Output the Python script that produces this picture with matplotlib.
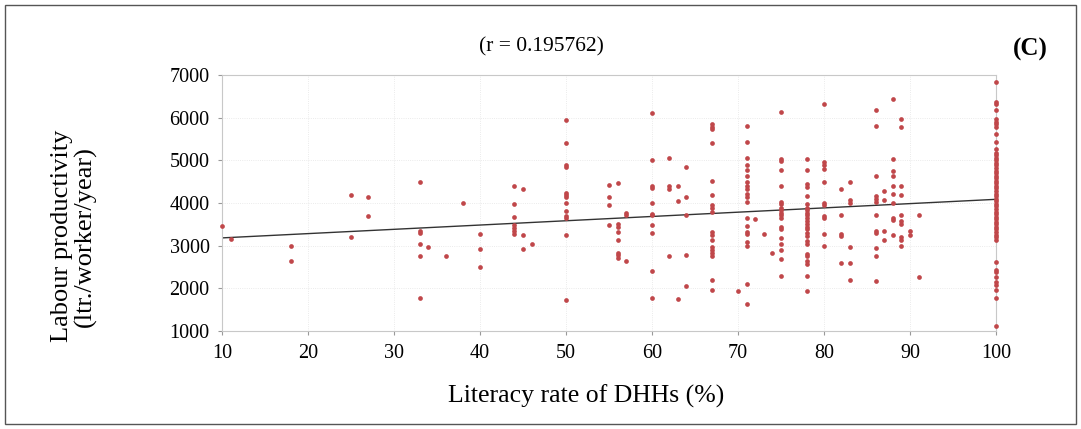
import numpy as np
import matplotlib.pyplot as plt
from matplotlib.patches import Rectangle

# literacy rate of DHHs (%) and the productivity readings at each level
literacy_levels = [10, 11, 18, 25, 27, 33, 34, 36, 38, 40, 44, 45, 46, 50, 55, 56, 57,
                   60, 62, 63, 64, 67, 70, 71, 72, 73, 74, 75, 78, 80, 82, 83, 86,
                   87, 88, 89, 90, 91, 100]
productivity = [
    [3450],
    [3150],
    [3000, 2650],
    [4180, 3200],
    [4150, 3700],
    [4500, 3350, 3300, 3050, 2750, 1770],
    [2980],
    [2750],
    [3990],
    [3270, 2920, 2500],
    [4400, 3980, 3680, 3490, 3420, 3340, 3280],
    [4320, 3260, 2920],
    [3040],
    [5950, 5400, 4900, 4850, 4240, 4190, 4150, 4000, 3820, 3690, 3640, 3240, 1730],
    [4420, 4150, 3950, 3490],
    [4480, 3510, 3430, 3310, 3140, 2840, 2780, 2720],
    [3770, 3720, 2630],
    [6120, 5000, 4410, 4350, 3990, 3750, 3710, 3490, 3300, 2410, 1770],
    [5050, 4400, 4330, 2750],
    [4410, 4040, 1750],
    [4840, 4150, 3720, 2770, 2060],
    [5850, 5780, 5740, 5400, 4510, 4180, 3950, 3890, 3800, 3330, 3240, 3140,
     2980, 2910, 2830, 2750, 2200, 1970],
    [1930],
    [5810, 5420, 5050, 4900, 4770, 4630, 4490, 4410, 4330, 4210, 4130, 4020,
     3660, 3470, 3320, 3280, 3080, 3000, 2110, 1630],
    [3630],
    [3270],
    [2840],
    [6140, 5040, 4980, 4770, 4400, 4020, 3970, 3890, 3830, 3770, 3710, 3650,
     3440, 3390, 3180, 3050, 2890, 2690, 2290],
    [5040, 4770, 4440, 4380, 4160, 3970, 3890, 3830, 3770, 3710, 3640, 3570,
     3510, 3440, 3380, 3300, 3220, 3100, 3050, 2810, 2750, 2650, 2570, 2290, 1930],
    [6320, 4950, 4880, 4790, 4490, 4000, 3960, 3690, 3650, 3280, 3000],
    [4320, 3720, 3280, 3220, 2590],
    [4500, 4080, 4000, 2980, 2590, 2200],
    [6180, 5810, 4630, 4160, 4100, 4020, 3720, 3350, 3300, 2940, 2750, 2180],
    [4290, 4080, 3350, 3130],
    [6440, 5040, 4750, 4630, 4410, 4200, 3990, 3650, 3610, 3260],
    [5970, 5790, 4400, 4180, 3720, 3580, 3500, 3210, 3140, 3000],
    [3350, 3250],
    [3710, 2260],
    [6840, 6370, 6320, 6180, 5970, 5910, 5850, 5790, 5610, 5430, 5260, 5180,
     5120, 5060, 5000, 4940, 4880, 4820, 4760, 4700, 4640, 4580, 4520, 4460,
     4400, 4340, 4280, 4220, 4160, 4100, 4040, 3980, 3920, 3860, 3800, 3740,
     3680, 3620, 3560, 3500, 3440, 3380, 3320, 3260, 3200, 3140,
     2610, 2440, 2380, 2260, 2150, 2070, 1970, 1770, 1120],
]
x_ticks = [10, 20, 30, 40, 50, 60, 70, 80, 90, 100]
y_ticks = [1000, 2000, 3000, 4000, 5000, 6000, 7000]

x = np.concatenate([[lv] * len(v) for lv, v in zip(literacy_levels, productivity)])
y = np.concatenate(productivity)

plt.rcParams['font.family'] = ['Liberation Serif', 'DejaVu Serif']

fig = plt.figure(figsize=(10.81, 4.29), dpi=100)
ax = fig.add_axes([0.2054, 0.2284, 0.7160, 0.5968])

ax.plot(x, y, 'o', color='#c0474a', markersize=3.4, markeredgewidth=0, clip_on=False, zorder=3)

# least squares line
slope, intercept = np.polyfit(x, y, 1)
xf = np.array([10, 100])
ax.plot(xf, slope * xf + intercept, color='#333333', lw=1.0, zorder=2)

ax.set_xlim(10, 100)
ax.set_ylim(1000, 7000)
ax.set_xticks(x_ticks)
ax.set_yticks(y_ticks)
ax.tick_params(labelsize=14.5, length=3, color='#999999', pad=6)
for s in ax.spines.values():
    s.set_color('#c8c8c8')
    s.set_linewidth(0.8)
ax.grid(True, color='#e4e4e4', linestyle=':', linewidth=0.6)

ax.set_xlabel('Literacy rate of DHHs (%)', fontsize=18.5)
ax.xaxis.set_label_coords(0.47, -0.21)
ax.set_ylabel('Labour productivity\n(ltr./worker/year)', fontsize=19, linespacing=1.05)
ax.yaxis.set_label_coords(-0.162, 0.37)

fig.text(541 / 1081, 1 - 47 / 429, '(r = 0.195762)', fontsize=15.5, ha='center', va='center')
fig.text(1030 / 1081, 1 - 49 / 429, '(C)', fontsize=18, fontweight='bold', ha='center', va='center')

fig.patches.append(Rectangle((0.005, 0.012), 0.99, 0.976, transform=fig.transFigure,
                             fill=False, edgecolor='#555555', lw=1.0))

fig.savefig('out.png', dpi=100)
